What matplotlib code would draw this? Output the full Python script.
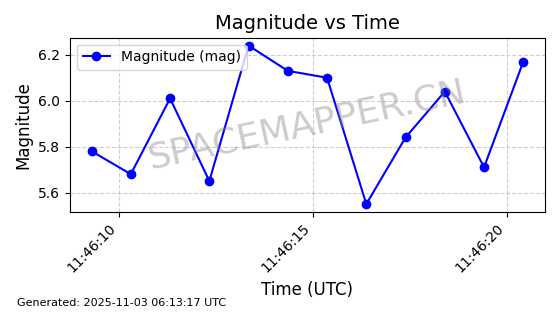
import matplotlib
matplotlib.use("Agg")
import matplotlib.pyplot as plt
import matplotlib.dates as mdates
import pandas as pd

# readings, roughly one per second
times = pd.to_datetime([
    "2025-11-03 11:46:09.303", "2025-11-03 11:46:10.314", "2025-11-03 11:46:11.325",
    "2025-11-03 11:46:12.336", "2025-11-03 11:46:13.347", "2025-11-03 11:46:14.358",
    "2025-11-03 11:46:15.369", "2025-11-03 11:46:16.380", "2025-11-03 11:46:17.391",
    "2025-11-03 11:46:18.402", "2025-11-03 11:46:19.413", "2025-11-03 11:46:20.424",
])
magnitudes = [5.78, 5.68, 6.01, 5.65, 6.24, 6.13, 6.10, 5.55, 5.84, 6.04, 5.71, 6.17]
footer = "Generated: 2025-11-03 06:13:17 UTC"

fig, ax = plt.subplots(figsize=(5.6, 3.14), dpi=100)
fig.subplots_adjust(left=0.125, right=0.973, top=0.88, bottom=0.325)

ax.plot(times, magnitudes, "o-", color="blue", label="Magnitude (mag)")
ax.set_title("Magnitude vs Time", fontsize=14)
ax.set_xlabel("Time (UTC)", fontsize=12)
ax.set_ylabel("Magnitude", fontsize=12)
ax.grid(True, linestyle="--", alpha=0.6)
ax.legend(loc="upper left")

ax.xaxis.set_major_locator(mdates.SecondLocator(bysecond=range(0, 60, 5)))
ax.xaxis.set_major_formatter(mdates.DateFormatter("%H:%M:%S"))
plt.setp(ax.get_xticklabels(), rotation=45, ha="right")

ax.text(0.5, 0.5, "SPACEMAPPER.CN", transform=ax.transAxes, fontsize=26,
        color="gray", alpha=0.4, rotation=12, ha="center", va="center")

fig.text(0.03, 0.025, footer, fontsize=8)

plt.savefig("out.png", dpi=100)
